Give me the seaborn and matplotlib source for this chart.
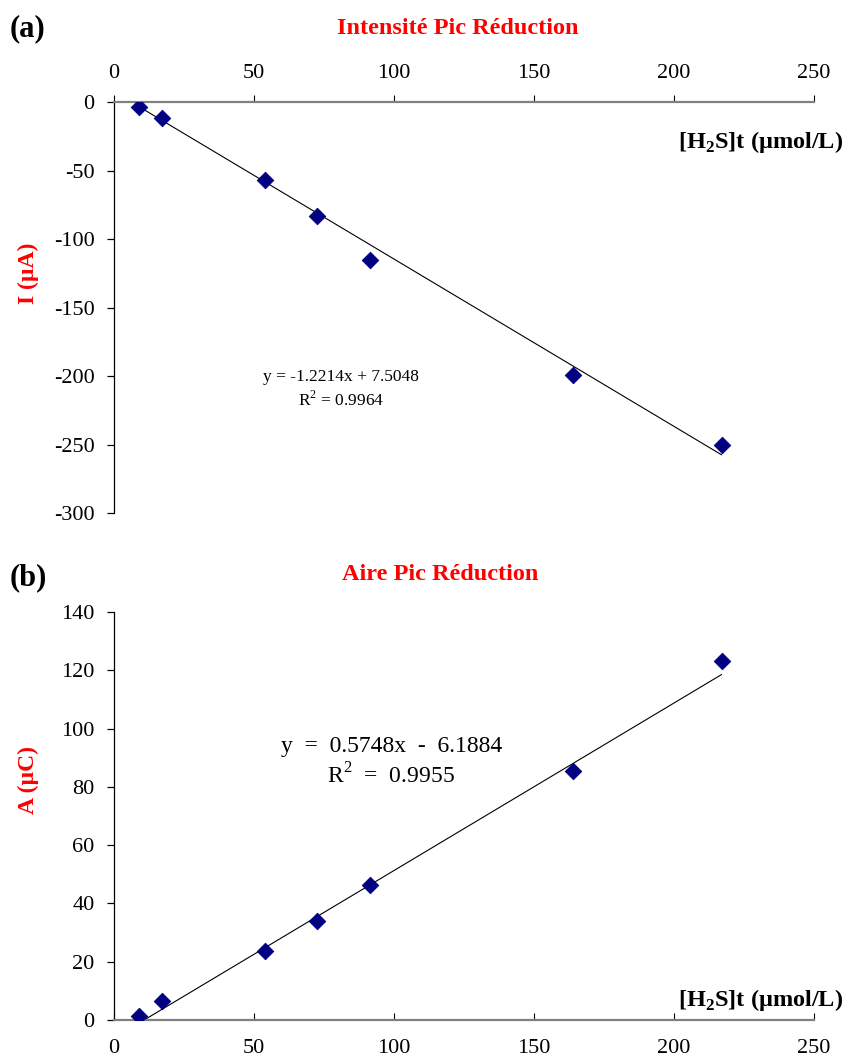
import numpy as np
import pandas as pd
import matplotlib
matplotlib.use('Agg')
import matplotlib.pyplot as plt
import seaborn as sns

# ── data ─────────────────────────────────────────────────────────────────────
conc = [9, 17, 54, 72.5, 91.5, 164, 217]                       # [H2S]t (µmol/L)
intensite = [-3.6, -11.7, -57, -83, -115, -199.5, -250.5]       # I (µA)
aire = [1.4, 6.5, 23.7, 34, 46.3, 85.4, 123.2]                  # A (µC)
fit_i = [-1.2214, 7.5048]
fit_a = [0.5748, -6.1884]
r2_i, r2_a = 0.9964, 0.9955
xticks = [0, 50, 100, 150, 200, 250]
yticks_i = [0, -50, -100, -150, -200, -250, -300]
yticks_a = [0, 20, 40, 60, 80, 100, 120, 140]

sns.set_style('ticks')
plt.rcParams['font.family'] = ['Liberation Serif', 'DejaVu Serif']
plt.rcParams['mathtext.fontset'] = 'custom'
plt.rcParams['mathtext.rm'] = 'Liberation Serif'
plt.rcParams['mathtext.bf'] = 'Liberation Serif:bold'
plt.rcParams['axes.unicode_minus'] = False
for k in ['text.color', 'xtick.color', 'ytick.color', 'axes.labelcolor']:
    plt.rcParams[k] = 'black'

df = pd.DataFrame({'conc': conc, 'I': intensite, 'A': aire})
xfit = np.linspace(min(conc), max(conc), 50)

W, H = 849, 1058
fig = plt.figure(figsize=(W / 100, H / 100), dpi=100)
ax1 = fig.add_axes([114 / W, 1 - 513 / H, 700 / W, 411 / H])
ax2 = fig.add_axes([114 / W, 1 - 1020 / H, 700 / W, 408 / H])

NAVY = '#000080'
GRAY = '#808080'
RED = '#ff0000'


def style(ax, top):
    ax.spines['right'].set_visible(False)
    ax.spines['left'].set_color('black')
    ax.spines['left'].set_linewidth(0.9)
    xs = 'top' if top else 'bottom'
    other = 'bottom' if top else 'top'
    ax.spines[other].set_visible(False)
    ax.spines[xs].set_color(GRAY)
    ax.spines[xs].set_linewidth(1.6)
    ax.set_xlim(0, 250)
    ax.set_xticks(xticks)
    if top:
        ax.xaxis.tick_top()
        ax.tick_params(axis='x', direction='out', length=5, pad=9, labelsize=16)
    else:
        ax.tick_params(axis='x', direction='in', length=5, pad=14, labelsize=16)
    ax.tick_params(axis='y', direction='out', length=5, pad=9, labelsize=16, width=0.9)
    ax.set_xlabel('')
    ax.set_ylabel('')


# ── (a) intensité ───────────────────────────────────────────────────────────
sns.scatterplot(data=df, x='conc', y='I', ax=ax1, marker='D', s=70,
                color=NAVY, edgecolor=NAVY, zorder=3)
sns.lineplot(x=xfit, y=fit_i[0] * xfit + fit_i[1], ax=ax1, color='black',
             linewidth=0.8, zorder=2)
style(ax1, top=True)
ax1.set_ylim(-300, 0)
ax1.set_yticks(yticks_i)
ax1.text(81, -210, f'y = {fit_i[0]:.4f}x + {fit_i[1]:.4f}\nR$^2$ = {r2_i:.4f}',
         ha='center', va='center', fontsize=12.5, linespacing=1.35)

# ── (b) aire ────────────────────────────────────────────────────────────────
sns.scatterplot(data=df, x='conc', y='A', ax=ax2, marker='D', s=70,
                color=NAVY, edgecolor=NAVY, zorder=3)
sns.lineplot(x=xfit, y=fit_a[0] * xfit + fit_a[1], ax=ax2, color='black',
             linewidth=0.8, zorder=2)
style(ax2, top=False)
ax2.set_ylim(0, 140)
ax2.set_yticks(yticks_a)
ax2.text(99, 88.3, f'y  =  {fit_a[0]:.4f}x  -  {-fit_a[1]:.4f}\nR$^2$  =  {r2_a:.4f}',
         ha='center', va='center', fontsize=17, linespacing=1.3)

# ── texts ───────────────────────────────────────────────────────────────────
def ftext(x, y, s, **kw):
    fig.text(x / W, 1 - y / H, s, **kw)

ftext(10, 29, '(a)', fontsize=22, fontweight='bold', va='center')
ftext(10, 578, '(b)', fontsize=22, fontweight='bold', va='center')
ftext(458, 29, 'Intensité Pic Réduction', fontsize=17.5, fontweight='bold',
      color=RED, ha='center', va='center')
ftext(440, 575, 'Aire Pic Réduction', fontsize=17.5, fontweight='bold',
      color=RED, ha='center', va='center')
ftext(28, 273, 'I (µA)', fontsize=17, fontweight='bold', color=RED,
      rotation=90, ha='center', va='center')
ftext(28, 780, 'A (µC)', fontsize=17, fontweight='bold', color=RED,
      rotation=90, ha='center', va='center')
xlab = r'[H$_\mathbf{2}$S]t (µmol/L)'
ftext(843, 142, xlab, fontsize=17.5, fontweight='bold', ha='right', va='center')
ftext(843, 1000, xlab, fontsize=17.5, fontweight='bold', ha='right', va='center')

fig.savefig('out.png', dpi=100)
